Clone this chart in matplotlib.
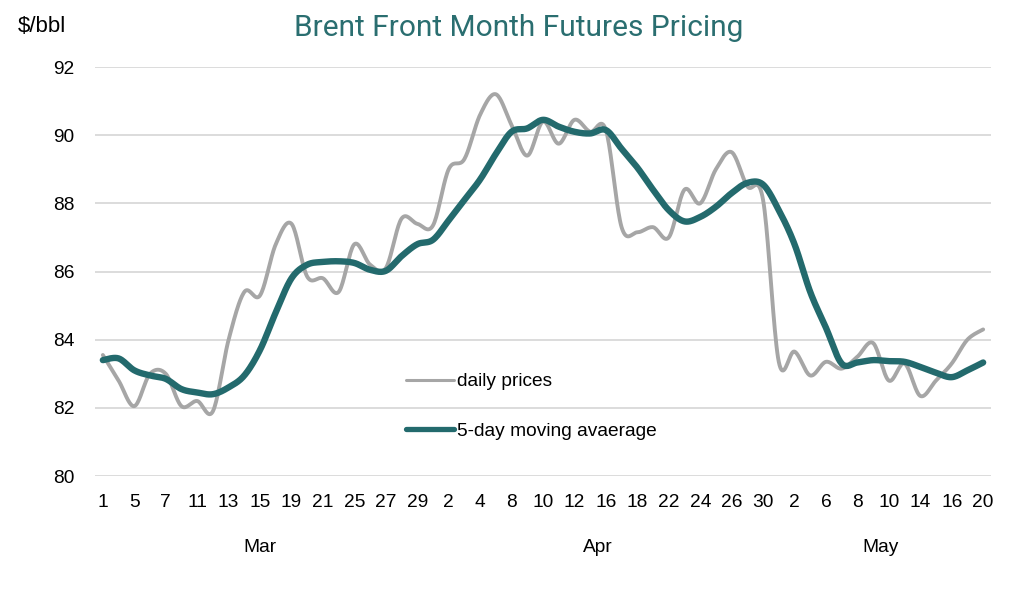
import numpy as np
import matplotlib
matplotlib.use("Agg")
import matplotlib.pyplot as plt
import matplotlib.transforms as mtransforms

# trading days Mar 1 - May 20
days = [1, 4, 5, 6, 7, 8, 11, 12, 13, 14, 15, 18, 19, 20, 21, 22, 25, 26, 27, 28, 29,
        1, 2, 3, 4, 5, 8, 9, 10, 11, 12, 15, 16, 17, 18, 19, 22, 23, 24, 25, 26, 29, 30,
        1, 2, 3, 6, 7, 8, 9, 10, 13, 14, 15, 16, 17, 20]
months = ["Mar", "Apr", "May"]
month_counts = [21, 22, 14]

daily = [83.55, 82.8, 82.05, 83.0, 83.0, 82.05, 82.2, 81.9, 84.0, 85.4, 85.3,
         86.8, 87.4, 85.85, 85.8, 85.4, 86.8, 86.2, 86.1, 87.55, 87.4,
         87.35, 89.0, 89.3, 90.6, 91.2, 90.3, 89.4, 90.4, 89.75, 90.45, 90.1,
         90.15, 87.3, 87.15, 87.3, 87.0, 88.4, 88.0, 89.0, 89.5, 88.5, 88.1,
         83.35, 83.65, 82.95, 83.35, 83.15, 83.5, 83.9, 82.8, 83.3, 82.35,
         82.8, 83.3, 84.0, 84.3]
moving_avg = [83.4, 83.45, 83.1, 82.95, 82.85, 82.55, 82.45, 82.4, 82.6, 82.95, 83.7,
              84.8, 85.8, 86.2, 86.28, 86.3, 86.25, 86.05, 86.02, 86.45, 86.8,
              86.93, 87.5, 88.1, 88.7, 89.45, 90.1, 90.2, 90.45, 90.25, 90.1, 90.05,
              90.15, 89.6, 89.05, 88.4, 87.8, 87.47, 87.6, 87.9, 88.3, 88.6, 88.55,
              87.8, 86.8, 85.4, 84.35, 83.3, 83.33, 83.4, 83.37, 83.35, 83.2,
              83.03, 82.9, 83.1, 83.33]


def smooth(y, n=20):
    # Excel-style smoothed line (Catmull-Rom bezier)
    y = np.asarray(y, float)
    x = np.arange(len(y), dtype=float)
    px = np.concatenate([[x[0]], x, [x[-1]]])
    py = np.concatenate([[y[0]], y, [y[-1]]])
    xs, ys = [], []
    t = np.linspace(0, 1, n, endpoint=False)
    for i in range(len(y) - 1):
        p0x, p1x, p2x, p3x = px[i], px[i + 1], px[i + 2], px[i + 3]
        p0y, p1y, p2y, p3y = py[i], py[i + 1], py[i + 2], py[i + 3]
        c1x, c1y = p1x + (p2x - p0x) / 6, p1y + (p2y - p0y) / 6
        c2x, c2y = p2x - (p3x - p1x) / 6, p2y - (p3y - p1y) / 6
        b = [(1 - t) ** 3, 3 * (1 - t) ** 2 * t, 3 * (1 - t) * t ** 2, t ** 3]
        xs.append(b[0] * p1x + b[1] * c1x + b[2] * c2x + b[3] * p2x)
        ys.append(b[0] * p1y + b[1] * c1y + b[2] * c2y + b[3] * p2y)
    xs.append([x[-1]])
    ys.append([y[-1]])
    return np.concatenate(xs), np.concatenate(ys)


plt.rcParams['font.family'] = ['Liberation Sans', 'DejaVu Sans']

gray = '#A6A6A6'
teal = '#236A6D'
fs = 13.8

fig = plt.figure(figsize=(10.24, 5.98), dpi=100)
ax = fig.add_axes([95 / 1024, 1 - 476 / 598, 896 / 1024, 409 / 598])

sx, sy = smooth(daily)
ax.plot(sx, sy, color=gray, lw=2.8, label='daily prices', solid_capstyle='round')
sx, sy = smooth(moving_avg)
ax.plot(sx, sy, color=teal, lw=4.6, label='5-day moving avaerage', solid_capstyle='round')

ax.set_xlim(-0.5, len(days) - 0.5)
ax.set_ylim(80, 92)
ax.set_yticks(range(80, 93, 2))
ax.grid(axis='y', color='#D9D9D9', lw=1.3)
ax.set_axisbelow(True)
for s in ax.spines.values():
    s.set_visible(False)

idx = list(range(0, len(days), 2))
ax.set_xticks(idx)
ax.set_xticklabels([str(days[i]) for i in idx])
ax.tick_params(axis='both', length=0, labelsize=fs, colors='#000000')
ax.tick_params(axis='x', pad=13)
ax.tick_params(axis='y', pad=15)

trans = mtransforms.blended_transform_factory(ax.transData, ax.transAxes)
start = 0
for m, c in zip(months, month_counts):
    ax.text(start + (c - 1) / 2, -0.174, m, transform=trans, ha='center', va='center', fontsize=fs)
    start += c

leg = ax.legend(loc='center left', bbox_to_anchor=(0.3475, 0.17), frameon=False,
                fontsize=fs, handlelength=2.5, handletextpad=0.15, labelspacing=1.68,
                borderpad=0, borderaxespad=0)
leg.get_lines()[0].set_linewidth(2.2)
leg.get_lines()[1].set_linewidth(3.8)

fig.text(18 / 1024, 1 - 27 / 598, '$/bbl', fontsize=16, va='center', ha='left')
fig.text(519 / 1024, 1 - 28 / 598, 'Brent Front Month Futures Pricing', fontsize=21.5,
         color='#2A6E70', ha='center', va='center', family=['Roboto', 'DejaVu Sans'])

fig.savefig('out.png', dpi=100)
